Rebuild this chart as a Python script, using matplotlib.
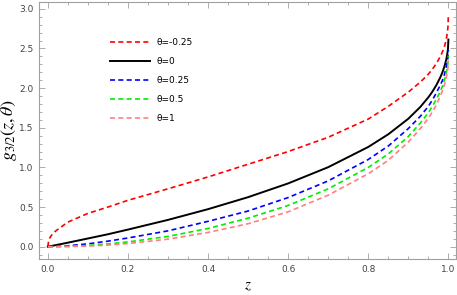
import matplotlib
matplotlib.use('Agg')
import matplotlib.pyplot as plt
from matplotlib.ticker import MultipleLocator, FormatStrFormatter

# values
z = [0, 0.002, 0.005, 0.01, 0.02, 0.05, 0.1, 0.15, 0.2, 0.3, 0.4, 0.5, 0.6,
     0.7, 0.8, 0.85, 0.9, 0.93, 0.95, 0.96, 0.97, 0.98, 0.985, 0.99, 0.995,
     0.998, 0.999, 1.0]

g_m025 = [0, 0.07, 0.11, 0.15, 0.20, 0.31, 0.42, 0.50, 0.585, 0.73, 0.88, 1.04, 1.20,
          1.38, 1.61, 1.77, 1.95, 2.076, 2.176, 2.238, 2.311, 2.40, 2.455, 2.52, 2.62,
          2.725, 2.78, 2.93]
g_0 = [0, 0.002, 0.005, 0.0101, 0.0202, 0.0509, 0.1037, 0.157, 0.2159, 0.3383, 0.4735, 0.6249, 0.7982,
       1.003, 1.258, 1.418, 1.614, 1.763, 1.884, 1.955, 2.038, 2.138, 2.198, 2.271, 2.368,
       2.456, 2.501, 2.612]
g_025 = [0, 0, 0.0004, 0.001, 0.003, 0.012, 0.036, 0.07, 0.11, 0.20, 0.32, 0.45, 0.62,
         0.83, 1.10, 1.27, 1.49, 1.645, 1.77, 1.85, 1.94, 2.04, 2.095, 2.17, 2.27,
         2.35, 2.39, 2.48]
g_05 = [0, 0, 0.0001, 0.0003, 0.001, 0.004, 0.015, 0.035, 0.06, 0.13, 0.23, 0.36, 0.52,
        0.73, 1.00, 1.17, 1.39, 1.56, 1.69, 1.77, 1.86, 1.96, 2.023, 2.10, 2.20,
        2.28, 2.32, 2.41]
g_1 = [0, 0, 0, 0, 0.0005, 0.002, 0.008, 0.02, 0.04, 0.095, 0.18, 0.29, 0.44,
       0.65, 0.92, 1.09, 1.32, 1.49, 1.62, 1.70, 1.79, 1.90, 1.965, 2.04, 2.14,
       2.22, 2.26, 2.35]

labels = ['θ=-0.25', 'θ=0', 'θ=0.25', 'θ=0.5', 'θ=1']
colors = ['#ff0000', '#000000', '#0000ff', '#00ee00', '#ff8080']
styles = [(0, (3, 2)), '-', (0, (3, 2)), (0, (3, 2)), (0, (3, 2))]
series = [g_m025, g_0, g_025, g_05, g_1]

plt.rcParams['mathtext.fontset'] = 'stix'

fig = plt.figure(figsize=(4.57, 2.95), dpi=100)
ax = fig.add_axes([39 / 457, 36 / 295, 417 / 457, 257 / 295])

for y, lab, c, ls in zip(series, labels, colors, styles):
    ax.plot(z, y, color=c, ls=ls, lw=1.4 if ls == '-' else 1.2, label=lab)

ax.set_xlim(-0.022, 1.019)
ax.set_ylim(-0.155, 3.086)
ax.xaxis.set_major_locator(MultipleLocator(0.2))
ax.xaxis.set_minor_locator(MultipleLocator(0.05))
ax.yaxis.set_major_locator(MultipleLocator(0.5))
ax.yaxis.set_minor_locator(MultipleLocator(0.1))
ax.xaxis.set_major_formatter(FormatStrFormatter('%.1f'))
ax.yaxis.set_major_formatter(FormatStrFormatter('%.1f'))

for s in ax.spines.values():
    s.set_color('#a0a0a0')
    s.set_linewidth(0.8)
ax.tick_params(which='both', direction='in', top=True, right=True,
               color='#a0a0a0', width=0.6, labelsize=6.5, labelcolor='#444444')
ax.tick_params(which='major', length=4, pad=4)
ax.tick_params(which='minor', length=2)

ax.set_xlabel(r'$z$', fontsize=11)
ax.set_ylabel(r'$g_{3/2}(z,\theta)$', fontsize=13)
ax.xaxis.set_label_coords(0.5, -0.075)
ax.yaxis.set_label_coords(-0.048, 0.5)

ax.legend(loc='upper left', bbox_to_anchor=(0.17, 0.86), frameon=False,
          fontsize=6.5, handlelength=4.4, handletextpad=0.8, labelspacing=1.1,
          borderpad=0, borderaxespad=0)

fig.savefig('out.png', dpi=100)
